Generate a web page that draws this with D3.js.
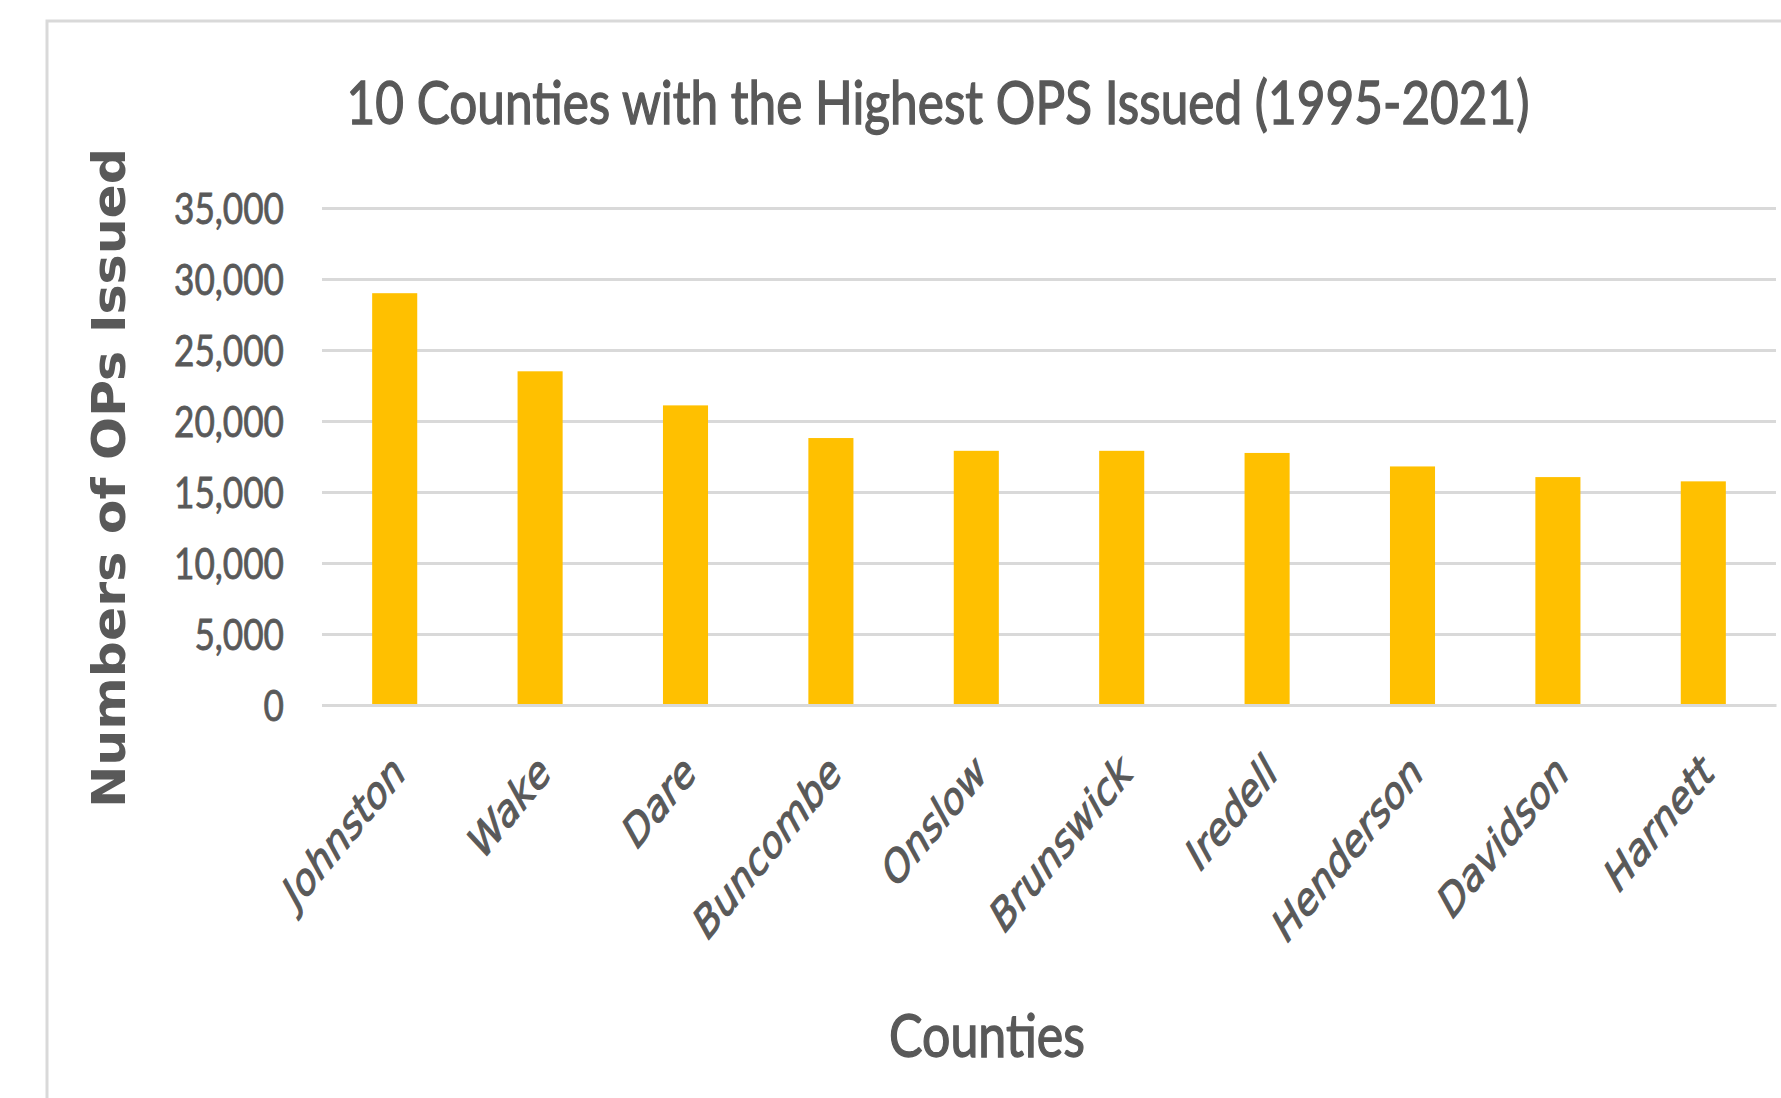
<!DOCTYPE html>
<html>
<head>
<meta charset="utf-8">
<script src="https://cdn.jsdelivr.net/npm/d3@7"></script>
<style>
  body { margin: 0; background: #fff; }
  svg { display: block; }
</style>
</head>
<body>
<svg id="chart"></svg>
<script>
// chart values
const counties = ["Johnston", "Wake", "Dare", "Buncombe", "Onslow", "Brunswick", "Iredell", "Henderson", "Davidson", "Harnett"];
const opsIssued = [29000, 23500, 21100, 18800, 17900, 17900, 17750, 16800, 16050, 15750];
const yTicks = [0, 5000, 10000, 15000, 20000, 25000, 30000, 35000];
const titleText = "10 Counties with the Highest OPS Issued (1995-2021)";
const xTitle = "Counties";
const yTitle = "Numbers of OPs Issued";

const width = 1781;
const height = 1098;
const plotLeft = 322;
const plotRight = 1776;
const plotTop = 208;
const plotBottom = 705;
const textColor = "#595959";
const gridColor = "#d9d9d9";
const barColor = "#ffc000";

const svg = d3.select("#chart")
    .attr("width", width)
    .attr("height", height);

// outer chart frame
svg.append("rect")
    .attr("x", 47)
    .attr("y", 21)
    .attr("width", width)
    .attr("height", height)
    .attr("fill", "none")
    .attr("stroke", gridColor)
    .attr("stroke-width", 3);

const x = d3.scaleBand()
    .domain(counties)
    .range([plotLeft, plotRight])
    .paddingInner(0.69)
    .paddingOuter(0.345);

const y = d3.scaleLinear()
    .domain([0, 35000])
    .range([plotBottom, plotTop]);

// gridlines + y tick labels
const yAxis = svg.append("g")
    .attr("transform", "translate(" + plotLeft + ",0)")
    .call(d3.axisLeft(y)
        .tickValues(yTicks)
        .tickFormat(d3.format(","))
        .tickSize(-(plotRight - plotLeft))
        .tickPadding(38));
yAxis.select(".domain").remove();
yAxis.selectAll("line")
    .attr("stroke", gridColor)
    .attr("stroke-width", 3);
const yLabels = yAxis.selectAll("text")
    .attr("fill", textColor)
    .attr("stroke", textColor)
    .attr("stroke-width", 0.8)
    .attr("font-family", "Lato, 'Open Sans', sans-serif")
    .attr("font-size", 43)
    .attr("dy", "0.36em");
// squeeze to a narrow Calibri-like look
const refLen = yLabels.filter(d => d === 35000).node().getComputedTextLength();
const squeeze = 110 / refLen;
yLabels.each(function () {
    d3.select(this)
        .attr("textLength", this.getComputedTextLength() * squeeze)
        .attr("lengthAdjust", "spacingAndGlyphs");
});

// bars
svg.append("g")
    .selectAll("rect")
    .data(counties)
    .join("rect")
    .attr("x", d => x(d))
    .attr("y", (d, i) => y(opsIssued[i]))
    .attr("width", x.bandwidth())
    .attr("height", (d, i) => y(0) - y(opsIssued[i]))
    .attr("fill", barColor);

// category axis
const xAxis = svg.append("g")
    .attr("transform", "translate(0," + plotBottom + ")")
    .call(d3.axisBottom(x).tickSize(0).tickSizeOuter(0));
xAxis.select(".domain")
    .attr("stroke", gridColor)
    .attr("stroke-width", 3);
xAxis.selectAll("text")
    .attr("y", null)
    .attr("dy", null)
    .attr("text-anchor", "end")
    .attr("transform", "translate(13,70) scale(1,1.22) rotate(-45)")
    .attr("fill", textColor)
    .attr("stroke", textColor)
    .attr("stroke-width", 1)
    .attr("font-family", "'DejaVu Sans', sans-serif")
    .attr("font-style", "italic")
    .attr("font-size", 36);

// title
svg.append("text")
    .attr("x", 938)
    .attr("y", 124)
    .attr("text-anchor", "middle")
    .attr("fill", textColor)
    .attr("stroke", textColor)
    .attr("stroke-width", 1.4)
    .attr("font-family", "Lato, 'Open Sans', sans-serif")
    .attr("font-size", 60)
    .attr("textLength", 1183)
    .attr("lengthAdjust", "spacingAndGlyphs")
    .text(titleText);

// axis titles
svg.append("text")
    .attr("x", 987)
    .attr("y", 1057)
    .attr("text-anchor", "middle")
    .attr("fill", textColor)
    .attr("stroke", textColor)
    .attr("stroke-width", 1.4)
    .attr("font-family", "Lato, 'Open Sans', sans-serif")
    .attr("font-size", 60)
    .attr("textLength", 196)
    .attr("lengthAdjust", "spacingAndGlyphs")
    .text(xTitle);

svg.append("text")
    .attr("transform", "translate(108,478) rotate(-90)")
    .attr("text-anchor", "middle")
    .attr("dy", "0.36em")
    .attr("fill", textColor)
    .attr("font-family", "'DejaVu Sans', sans-serif")
    .attr("font-weight", "bold")
    .attr("font-size", 46)
    .attr("textLength", 660)
    .attr("lengthAdjust", "spacingAndGlyphs")
    .text(yTitle);
</script>
</body>
</html>
